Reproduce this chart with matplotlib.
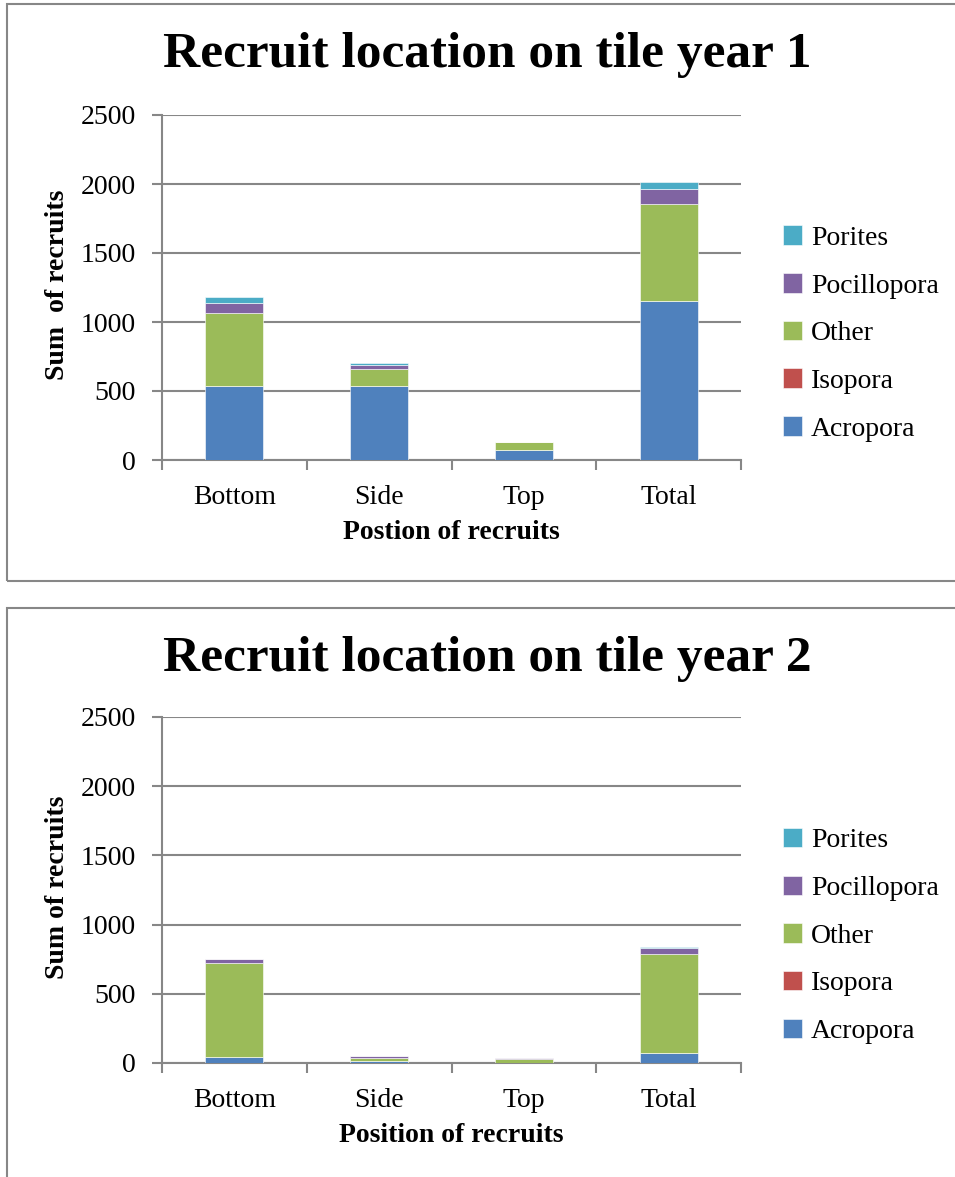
import matplotlib
matplotlib.use('Agg')
import matplotlib.pyplot as plt
from matplotlib.patches import Rectangle
import numpy as np

categories = ['Bottom', 'Side', 'Top', 'Total']
species = ['Acropora', 'Isopora', 'Other', 'Pocillopora', 'Porites']
colors = ['#4F81BD', '#C0504D', '#9BBB59', '#8064A2', '#4BACC6']

# year 1
acropora_y1 = [537, 535, 75, 1152]
isopora_y1 = [0, 0, 0, 0]
other_y1 = [528, 125, 53, 701]
pocillopora_y1 = [72, 29, 2, 109]
porites_y1 = [43, 12, 1, 50]

# year 2
acropora_y2 = [41, 18, 3, 75]
isopora_y2 = [0, 0, 0, 0]
other_y2 = [679, 17, 28, 710]
pocillopora_y2 = [29, 16, 2, 46]
porites_y2 = [2, 3, 1, 7]

yticks = [0, 500, 1000, 1500, 2000, 2500]

plt.rcParams['font.family'] = ['Liberation Serif', 'DejaVu Serif']
grey = '#878787'
W, H = 955, 1177
fs = 20


def fx(px):
    return px / W


def fy(py):
    return 1 - py / H


def draw_panel(fig, top_px, bot_px, series, title, title_y, ylabel, xlabel):
    ax = fig.add_axes([fx(162), fy(bot_px), fx(741) - fx(162), fy(top_px) - fy(bot_px)])
    x = np.arange(len(categories))
    bottom = np.zeros(len(categories))
    handles = []
    for vals, name, c in zip(series, species, colors):
        b = ax.bar(x, vals, width=0.4, bottom=bottom, color=c, label=name,
                   edgecolor='white', linewidth=0.4, zorder=3)
        handles.append(b)
        bottom += np.asarray(vals)
    ax.set_xlim(-0.5, 3.5)
    ax.set_ylim(0, 2500)
    ax.set_yticks(yticks)
    ax.set_yticklabels([str(v) for v in yticks], fontsize=fs)
    ax.yaxis.grid(True, color=grey, linewidth=1.5, zorder=0)
    ax.set_axisbelow(True)
    ax.set_xticks(x)
    ax.set_xticklabels(categories, fontsize=fs)
    ax.set_xticks(np.arange(-0.5, 4.0, 1.0), minor=True)
    ax.tick_params(axis='x', which='major', length=0, pad=18)
    ax.tick_params(axis='x', which='minor', length=7, width=1.5, color=grey, direction='out')
    ax.tick_params(axis='y', length=7, width=1.5, color=grey, pad=12)
    for s in ['top', 'right']:
        ax.spines[s].set_visible(False)
    for s in ['left', 'bottom']:
        ax.spines[s].set_color(grey)
        ax.spines[s].set_linewidth(1.5)
    ax.set_xlabel(xlabel, fontsize=fs, fontweight='bold', labelpad=7)
    ax.text(fx(58), (fy(bot_px) + fy(top_px)) / 2 + 0.002, ylabel, transform=fig.transFigure,
            rotation=90, ha='center', va='center', fontsize=fs, fontweight='bold')
    fig.text(fx(487), fy(title_y), title, ha='center', va='center',
             fontsize=37, fontweight='bold')
    ax.legend(handles[::-1], species[::-1], loc='center left',
              bbox_to_anchor=(fx(783), fy((bot_px + top_px) / 2 + 46)),
              bbox_transform=fig.transFigure, frameon=False, fontsize=fs,
              borderpad=0, borderaxespad=0,
              handlelength=0.7, handleheight=0.7, handletextpad=0.3,
              labelspacing=0.8)
    return ax


fig = plt.figure(figsize=(9.55, 11.77), dpi=100)

# panel borders
fig.patches.append(Rectangle((fx(7), fy(581)), fx(960) - fx(7), fy(4) - fy(581),
                             transform=fig.transFigure, fill=False,
                             edgecolor=grey, linewidth=1.5))
fig.patches.append(Rectangle((fx(7), fy(1185)), fx(960) - fx(7), fy(608) - fy(1185),
                             transform=fig.transFigure, fill=False,
                             edgecolor=grey, linewidth=1.5))

draw_panel(fig, 115, 460,
           [acropora_y1, isopora_y1, other_y1, pocillopora_y1, porites_y1],
           'Recruit location on tile year 1', 55, 'Sum  of recruits', 'Postion of recruits')
draw_panel(fig, 717, 1063,
           [acropora_y2, isopora_y2, other_y2, pocillopora_y2, porites_y2],
           'Recruit location on tile year 2', 659, 'Sum of recruits', 'Position of recruits')

fig.savefig('out.png', dpi=100)
